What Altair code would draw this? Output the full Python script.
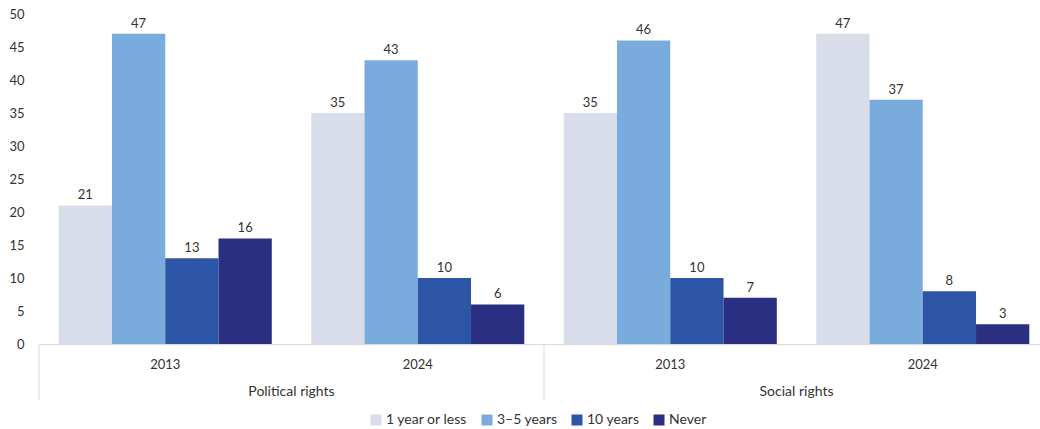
import altair as alt
import pandas as pd

groups = ["Political rights", "Political rights", "Social rights", "Social rights"]
years = ["2013", "2024", "2013", "2024"]
keys = ["P2013", "P2024", "S2013", "S2024"]
series = ["1 year or less", "3–5 years", "10 years", "Never"]
values = {
    "P2013": [21, 47, 13, 16],
    "P2024": [35, 43, 10, 6],
    "S2013": [35, 46, 10, 7],
    "S2024": [47, 37, 8, 3],
}
y_ticks = [0, 5, 10, 15, 20, 25, 30, 35, 40, 45, 50]
colors = ["#d9dde9", "#79acdc", "#2d55a5", "#2a2f82"]

rows = []
for k, g, y in zip(keys, groups, years):
    for s, v in zip(series, values[k]):
        rows.append({"key": k, "group": g, "year": y, "series": s, "value": v})
df = pd.DataFrame(rows)

group_df = pd.DataFrame({"key": ["P2024", "S2024"], "label": ["Political rights", "Social rights"]})
sep_df = pd.DataFrame({"key": ["P2013", "S2013"]})

FONT = "Lato"
label_expr = "substring(datum.value, 1)"

xscale = alt.Scale(domain=keys, paddingInner=0, paddingOuter=0, range=[1, 1011])
xoff = alt.Scale(domain=series, paddingInner=0, paddingOuter=0.37)

x_axis = alt.Axis(labelExpr=label_expr, labelAngle=0, ticks=False,
                  domainColor="#d9d9d9", labelPadding=14,
                  labelFont=FONT, labelFontSize=13, labelColor="#333333")
y_axis = alt.Axis(values=y_ticks, domain=False, ticks=False, grid=False,
                  labelOverlap=False, labelFlush=False, tickCount=11,
                  labelPadding=14, labelFont=FONT, labelFontSize=13, labelColor="#333333")

def x_enc():
    return alt.X("key:N", scale=xscale, sort=keys, title=None, axis=x_axis)

def y_enc():
    return alt.Y("value:Q", scale=alt.Scale(domain=[0, 50]), title=None, axis=y_axis)

base = alt.Chart(df)

bars = base.mark_bar().encode(
    x=x_enc(),
    xOffset=alt.XOffset("series:N", scale=xoff, sort=series),
    y=y_enc(),
    color=alt.Color("series:N", scale=alt.Scale(domain=series, range=colors), sort=series,
                    legend=alt.Legend(title=None, orient="none", direction="horizontal",
                                      legendX=331, legendY=399, symbolType="square",
                                      symbolSize=121, symbolStrokeWidth=0,
                                      labelFont=FONT, labelFontSize=14, labelColor="#333333",
                                      columnPadding=12, symbolOffset=0, labelOffset=3)),
)

labels = base.mark_text(dy=-10, font=FONT, fontSize=13, color="#333333").encode(
    x=x_enc(),
    xOffset=alt.XOffset("series:N", scale=xoff, sort=series),
    y=y_enc(),
    text=alt.Text("value:Q"),
)

seps = alt.Chart(sep_df).mark_rule(color="#d9d9d9", strokeWidth=1).encode(
    x=alt.X("key:N", scale=xscale, sort=keys, bandPosition=0, axis=x_axis, title=None),
    y=alt.value(330),
    y2=alt.value(386),
)

glabels = alt.Chart(group_df).mark_text(font=FONT, fontSize=14, color="#333333", baseline="middle").encode(
    x=alt.X("key:N", scale=xscale, sort=keys, bandPosition=0, axis=x_axis, title=None),
    y=alt.value(378),
    text="label:N",
)

chart = alt.layer(bars, labels, seps, glabels).properties(
    width=1002, height=330,
    padding={"left": 38, "top": 14, "right": 0, "bottom": 85},
    autosize=alt.AutoSizeParams(type="none"),
).configure_view(stroke=None)

chart.save("out.html", embed_options={"renderer": "svg", "actions": False})
